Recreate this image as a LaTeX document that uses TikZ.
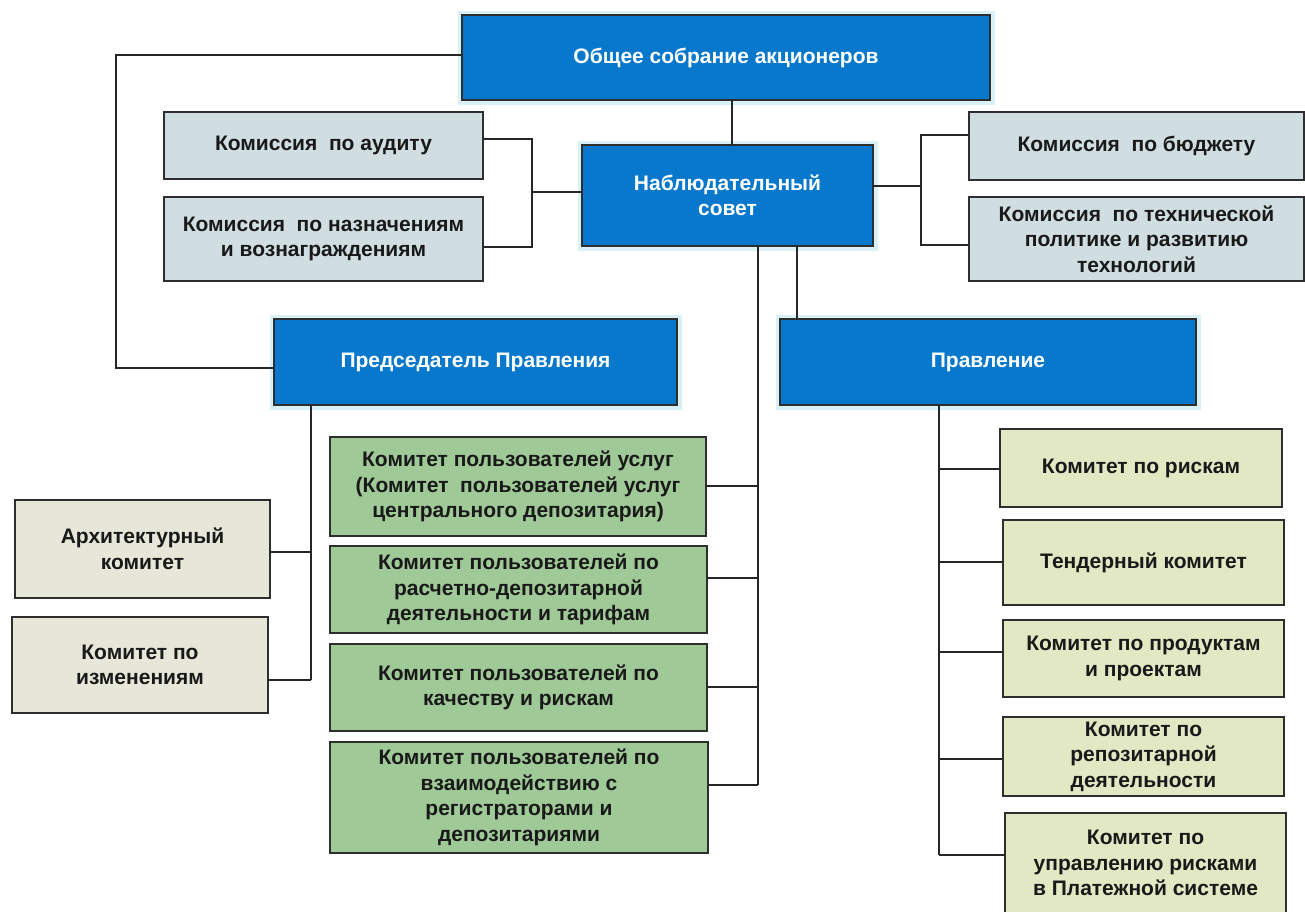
\documentclass[tikz,border=0pt]{standalone}
\usepackage{fontspec}
\setmainfont{Liberation Sans}
\definecolor{bluebox}{HTML}{0778CC}
\definecolor{glow}{HTML}{D8F1F7}
\definecolor{commgray}{HTML}{D0DEE2}
\definecolor{greenbox}{HTML}{A0C998}
\definecolor{beigebox}{HTML}{E6E6D9}
\definecolor{yellowbox}{HTML}{E3E8C4}
\definecolor{edgecol}{HTML}{2E2E2E}
\tikzset{
  orgbox/.style={draw=edgecol, line width=1.4pt, inner sep=1pt, outer sep=0pt,
    align=center, anchor=north west, text=black!90,
    font=\bfseries\fontsize{21}{25.5}\selectfont},
  bluebx/.style={orgbox, fill=bluebox, text=white, preaction={draw=glow, line width=9pt}},
  graybx/.style={orgbox, fill=commgray},
  greenbx/.style={orgbox, fill=greenbox},
  beigebx/.style={orgbox, fill=beigebox},
  yellowbx/.style={orgbox, fill=yellowbox},
  conn/.style={draw=black!85, line width=1.4pt},
}
\begin{document}
\begin{tikzpicture}[x=1pt,y=-1pt]
\useasboundingbox[fill=white] (0,0) rectangle (1305,911);
% blue boxes
\node[bluebx, minimum width=528, minimum height=85] (osa) at (462,15) {Общее собрание акционеров};
\node[bluebx, minimum width=291, minimum height=101] (nab) at (582,145) {Наблюдательный\\совет};
\node[bluebx, minimum width=403, minimum height=86] (pred) at (274,319) {Председатель Правления};
\node[bluebx, minimum width=416, minimum height=86] (prav) at (780,319) {Правление};
% commissions
\node[graybx, minimum width=319, minimum height=67] (aud) at (164,112) {Комиссия\ \ по аудиту};
\node[graybx, minimum width=319, minimum height=84] (nazn) at (164,197) {Комиссия\ \ по назначениям\\и вознаграждениям};
\node[graybx, minimum width=335, minimum height=68] (bud) at (969,112) {Комиссия\ \ по бюджету};
\node[graybx, minimum width=335, minimum height=84] (tech) at (969,197) {Комиссия\ \ по технической\\политике и развитию\\технологий};
% green
\node[greenbx, minimum width=376, minimum height=99] (g1) at (330,437) {Комитет пользователей услуг\\(Комитет\ \ пользователей услуг\\центрального депозитария)};
\node[greenbx, minimum width=377, minimum height=87] (g2) at (330,546) {Комитет пользователей по\\расчетно-депозитарной\\деятельности и тарифам};
\node[greenbx, minimum width=377, minimum height=87] (g3) at (330,644) {Комитет пользователей по\\качеству и рискам};
\node[greenbx, minimum width=378, minimum height=111] (g4) at (330,742) {Комитет\ пользователей по\\взаимодействию\ с\\регистраторами\ и\\депозитариями};
% beige
\node[beigebx, minimum width=255, minimum height=98] (arch) at (15,500) {Архитектурный\\комитет};
\node[beigebx, minimum width=256, minimum height=96] (izm) at (12,617) {Комитет по\\изменениям};
% yellow
\node[yellowbx, minimum width=282, minimum height=78] (r1) at (1000,429) {Комитет\ по рискам};
\node[yellowbx, minimum width=281, minimum height=85] (r2) at (1003,520) {Тендерный комитет};
\node[yellowbx, minimum width=281, minimum height=77] (r3) at (1003,620) {Комитет по продуктам\\и проектам};
\node[yellowbx, minimum width=281, minimum height=79] (r4) at (1003,717) {Комитет по\\репозитарной\\деятельности};
\node[yellowbx, minimum width=281, minimum height=100] (r5) at (1005,813) {Комитет по\\управлению рисками\\в Платежной системе};
% connectors
\draw[conn] (osa.south -| 732,0) -- (nab.north -| 732,0);
\draw[conn] (osa.west |- 0,55) -| (116,368) -- (pred.west |- 0,368);
\draw[conn] (aud.east |- 0,139) -- (532,139) -- (532,247) -- (nazn.east |- 0,247);
\draw[conn] (532,192) -- (nab.west |- 0,192);
\draw[conn] (bud.west |- 0,135) -- (921,135) -- (921,245) -- (tech.west |- 0,245);
\draw[conn] (921,186) -- (nab.east |- 0,186);
\draw[conn] (nab.south -| 797,0) -- (prav.north -| 797,0);
\draw[conn] (nab.south -| 758,0) -- (758,785);
\draw[conn] (g1.east |- 0,486) -- (758,486);
\draw[conn] (g2.east |- 0,578) -- (758,578);
\draw[conn] (g3.east |- 0,687) -- (758,687);
\draw[conn] (g4.east |- 0,785) -- (758,785);
\draw[conn] (pred.south -| 311,0) -- (311,680);
\draw[conn] (arch.east |- 0,552) -- (311,552);
\draw[conn] (izm.east |- 0,680) -- (311,680);
\draw[conn] (prav.south -| 939,0) -- (939,855);
\draw[conn] (939,469) -- (r1.west |- 0,469);
\draw[conn] (939,562) -- (r2.west |- 0,562);
\draw[conn] (939,652) -- (r3.west |- 0,652);
\draw[conn] (939,759) -- (r4.west |- 0,759);
\draw[conn] (939,855) -- (r5.west |- 0,855);
\end{tikzpicture}
\end{document}
